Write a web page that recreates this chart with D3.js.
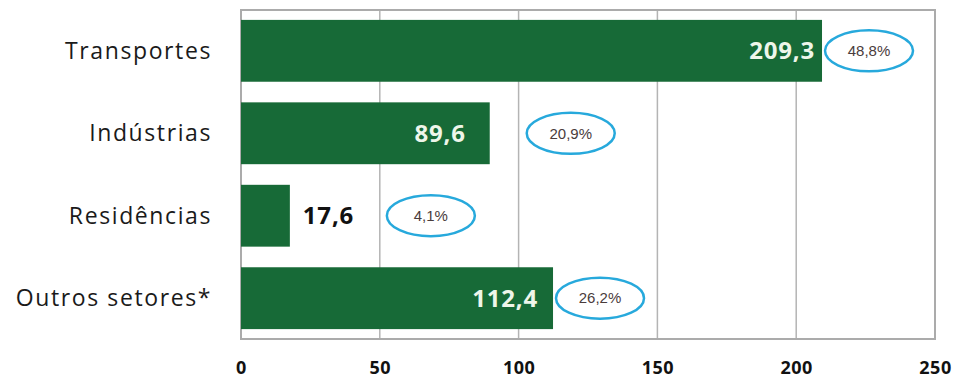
<!DOCTYPE html>
<html>
<head>
<meta charset="utf-8">
<script src="https://cdn.jsdelivr.net/npm/d3@7/dist/d3.min.js"></script>
<style>
  html, body { margin: 0; padding: 0; background: #fff; }
  svg { display: block; }
</style>
</head>
<body>
<svg id="chart" width="960" height="378"></svg>
<script>
// Emissões por setor
const categories = ["Transportes", "Indústrias", "Residências", "Outros setores*"];
const values = [209.3, 89.6, 17.6, 112.4];
const shares = ["48,8%", "20,9%", "4,1%", "26,2%"];
const tickValues = [0, 50, 100, 150, 200, 250];

// label placement per row (pixels)
const valueInside = [true, true, false, true];
const valuePad = [7, 24, 13, 15];
const ellipseGap = [47, 81, 141, 47];

const fmt = v => d3.format(".1f")(v).replace(".", ",");

const svg = d3.select("#chart");
const frame = { left: 241, right: 935, top: 10, bottom: 339 };

const x = d3.scaleLinear().domain([0, 250]).range([frame.left, frame.right]);
const y = d3.scaleBand().domain(categories)
  .range([frame.top, frame.bottom])
  .paddingInner(0.25).paddingOuter(0.12);

// grid lines
svg.append("g").selectAll("line")
  .data(tickValues.filter(t => t > 0 && t < 250))
  .join("line")
  .attr("x1", d => x(d)).attr("x2", d => x(d))
  .attr("y1", frame.top).attr("y2", frame.bottom)
  .attr("stroke", "#b4b4b4").attr("stroke-width", 1.5);

// plot frame
svg.append("rect")
  .attr("x", frame.left).attr("y", frame.top)
  .attr("width", frame.right - frame.left).attr("height", frame.bottom - frame.top)
  .attr("fill", "none").attr("stroke", "#ababab").attr("stroke-width", 2);

// bars
svg.append("g").selectAll("rect")
  .data(categories)
  .join("rect")
  .attr("x", x(0))
  .attr("y", d => y(d))
  .attr("width", (d, i) => x(values[i]) - x(0))
  .attr("height", y.bandwidth())
  .attr("fill", "#176a37");

// category labels
svg.append("g").selectAll("text")
  .data(categories)
  .join("text")
  .attr("x", 212)
  .attr("y", d => y(d) + y.bandwidth() / 2)
  .attr("dy", "0.35em")
  .attr("text-anchor", "end")
  .attr("font-family", "'Open Sans', sans-serif")
  .attr("font-size", 23)
  .attr("letter-spacing", 1.6)
  .attr("fill", "#1a1a1a")
  .text(d => d);

// value labels
svg.append("g").selectAll("text")
  .data(categories)
  .join("text")
  .attr("x", (d, i) => valueInside[i] ? x(values[i]) - valuePad[i] : x(values[i]) + valuePad[i])
  .attr("y", d => y(d) + y.bandwidth() / 2)
  .attr("dy", "0.36em")
  .attr("text-anchor", (d, i) => valueInside[i] ? "end" : "start")
  .attr("font-family", "'Open Sans', sans-serif")
  .attr("font-weight", 700)
  .attr("font-size", 24)
  .attr("letter-spacing", 0.8)
  .attr("fill", (d, i) => valueInside[i] ? "#eef6ea" : "#111")
  .text((d, i) => fmt(values[i]));

// share ellipses
const shareG = svg.append("g").selectAll("g")
  .data(categories)
  .join("g")
  .attr("transform", (d, i) => `translate(${x(values[i]) + ellipseGap[i]},${y(d) + y.bandwidth() / 2})`);

shareG.append("ellipse")
  .attr("rx", 44).attr("ry", 20.5)
  .attr("fill", "#fff")
  .attr("stroke", "#27a9dc").attr("stroke-width", 2.5);

shareG.append("text")
  .attr("text-anchor", "middle")
  .attr("dy", "0.35em")
  .attr("font-family", "'Liberation Sans Narrow', 'Liberation Sans', sans-serif")
  .attr("font-size", 15)
  .attr("fill", "#4a3c3c")
  .text((d, i) => shares[i]);

// x axis
const axis = svg.append("g")
  .attr("transform", `translate(0,${frame.bottom})`)
  .call(d3.axisBottom(x).tickValues(tickValues).tickSize(0).tickPadding(22)
    .tickFormat(d3.format("d")));
axis.select(".domain").remove();
axis.selectAll("text")
  .attr("font-family", "'Open Sans', sans-serif")
  .attr("font-weight", 700)
  .attr("font-size", 18)
  .attr("letter-spacing", 0.5)
  .attr("fill", "#111");
</script>
</body>
</html>
